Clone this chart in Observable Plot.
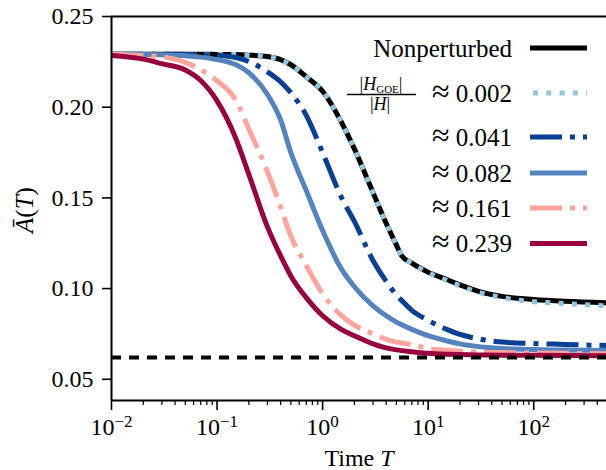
<!DOCTYPE html>
<html><head><meta charset="utf-8">
<script src="https://cdn.jsdelivr.net/npm/d3@7"></script>
<script src="https://cdn.jsdelivr.net/npm/@observablehq/plot@0.6"></script>
<style>
body{margin:0;background:#fff}
svg{font-family:"Liberation Serif",serif}
</style>
</head><body><div id="chart"></div>
<script>
// ---- data ----
const T = [0.01, 0.02, 0.03, 0.05, 0.07, 0.1, 0.15, 0.2, 0.3, 0.4, 0.5, 0.7, 1, 1.5, 2, 3, 4, 5, 5.6, 7, 10, 15, 20, 30, 50, 100, 200, 489];
const nonperturbed = [0.2292,0.2292,0.2292,0.2292,0.2292,0.2291,0.2290,0.2287,0.2279,0.2262,0.2234,0.2168,0.2088,0.1920,0.1770,0.1530,0.1360,0.1240,0.1182,0.1140,0.1090,0.1050,0.1020,0.0985,0.0957,0.0940,0.0930,0.0922];
const ratio002 = [0.2292,0.2292,0.2292,0.2292,0.2292,0.2291,0.2290,0.2287,0.2279,0.2262,0.2234,0.2168,0.2088,0.1920,0.1770,0.1530,0.1360,0.1240,0.1182,0.1140,0.1088,0.1046,0.1015,0.0980,0.0950,0.0928,0.0917,0.0905];
const ratio041 = [0.2292,0.2292,0.2292,0.2291,0.2290,0.2287,0.2274,0.2252,0.2195,0.2140,0.2080,0.1955,0.1750,0.1505,0.1370,0.1155,0.1040,0.0965,0.0935,0.0880,0.0825,0.0775,0.0747,0.0723,0.0705,0.0697,0.0692,0.0686];
const ratio082 = [0.2292,0.2291,0.2289,0.2284,0.2276,0.2262,0.2235,0.2190,0.2070,0.1930,0.1750,0.1540,0.1320,0.1110,0.1010,0.0905,0.0850,0.0815,0.0800,0.0775,0.0740,0.0712,0.0695,0.0680,0.0670,0.0664,0.0661,0.0658];
const ratio161 = [0.2292,0.2285,0.2278,0.2247,0.2207,0.2145,0.2040,0.1880,0.1645,0.1450,0.1290,0.1126,0.0972,0.0852,0.0798,0.0751,0.0720,0.0705,0.0700,0.0690,0.0670,0.0660,0.0655,0.0650,0.0647,0.0645,0.0643,0.0641];
const ratio239 = [0.2285,0.2265,0.2240,0.2205,0.2147,0.2035,0.1830,0.1630,0.1340,0.1180,0.1070,0.0950,0.0850,0.0775,0.0740,0.0695,0.0673,0.0662,0.0658,0.0652,0.0643,0.0638,0.0636,0.0634,0.0633,0.0632,0.0631,0.0630];
const referenceLevel = 0.062;

const seriesNames = ["Nonperturbed", "≈ 0.002", "≈ 0.041", "≈ 0.082", "≈ 0.161", "≈ 0.239"];
const seriesValues = [nonperturbed, ratio002, ratio041, ratio082, ratio161, ratio239];
const seriesColors = ["#000000", "#92c5de", "#0a3f96", "#5583bd", "#ffa59e", "#98003f"];
const seriesDashes = [null, "5,8.3", "32,8,5,8", null, "32,8,5,8", null];

const yTicks = [0.05, 0.10, 0.15, 0.20, 0.25];
const xMajorTicks = [0.01, 0.1, 1, 10, 100];
const xMinorTicks = [0.02,0.03,0.04,0.05,0.06,0.07,0.08,0.09,0.2,0.3,0.4,0.5,0.6,0.7,0.8,0.9,2,3,4,5,6,7,8,9,20,30,40,50,60,70,80,90,200,300,400];
const xDomain = [0.01, 489];
const yDomain = [0.0383, 0.25];

// ---- chart ----
const lineMarks = seriesValues.map((vals, k) =>
  Plot.line(T.map((t, i) => ({T: t, A: vals[i]})), {
    x: "T", y: "A", stroke: seriesColors[k], strokeWidth: 5,
    strokeDasharray: seriesDashes[k] || undefined, curve: "monotone-x",
    strokeLinecap: "butt", strokeLinejoin: "round"
  })
);

const chart = Plot.plot({
  width: 606, height: 470,
  marginLeft: 111, marginRight: 0, marginTop: 16, marginBottom: 70,
  style: {fontFamily: "Liberation Serif, serif", fontSize: "24px", background: "#fff", color: "#000", overflow: "visible"},
  x: {type: "log", domain: xDomain},
  y: {domain: yDomain},
  marks: [
    ...lineMarks,
    Plot.ruleY([referenceLevel], {stroke: "#000", strokeWidth: 4, strokeDasharray: "10,8"}),
    Plot.axisY({ticks: yTicks, tickSize: 9, tickPadding: 9, tickFormat: d3.format(".2f"), label: null, fontSize: 24, strokeWidth: 1.6}),
    Plot.axisX({ticks: xMajorTicks, tickSize: 10, tickPadding: 7, tickFormat: d => "10^" + Math.round(Math.log10(d)), label: null, fontSize: 24, strokeWidth: 1.6}),
    Plot.axisX({ticks: xMinorTicks, tickSize: 5, tickFormat: () => "", label: null, strokeWidth: 1.2}),
    Plot.ruleX([xDomain[0]], {stroke: "#000", strokeWidth: 2}),
    Plot.ruleY([yDomain[0]], {stroke: "#000", strokeWidth: 2}),
    Plot.ruleY([yDomain[1]], {stroke: "#000", strokeWidth: 2})
  ]
});
document.getElementById("chart").appendChild(chart);

const svg = d3.select(chart);

// superscript exponents on the x tick labels
svg.selectAll('g[aria-label="x-axis tick label"] text').each(function () {
  const s = this.textContent;
  if (!s.includes("^")) return;
  const [b, e] = s.split("^");
  const t = d3.select(this);
  t.text(null);
  t.append("tspan").text(b);
  t.append("tspan").attr("dy", "-0.42em").attr("font-size", "17px").text(e.replace("-", "\u2212"));
});

// axis titles
const xl = svg.append("text").attr("x", 359).attr("y", 466).attr("text-anchor", "middle").attr("font-size", 24);
xl.append("tspan").text("Time ");
xl.append("tspan").attr("font-style", "italic").text("T");

const yl = svg.append("text").attr("transform", "translate(33,210) rotate(-90)").attr("text-anchor", "middle").attr("font-size", 25);
yl.append("tspan").attr("font-style", "italic").text("A\u0304");
yl.append("tspan").text("(");
yl.append("tspan").attr("font-style", "italic").text("T");
yl.append("tspan").text(")");

// legend
const legendY = [48, 93, 137, 173, 208, 243.5];
const lg = svg.append("g");
seriesNames.forEach((name, k) => {
  const tx = lg.append("text").attr("x", 512).attr("y", legendY[k] + 8.5)
    .attr("text-anchor", "end").attr("font-size", 25);
  if (name.startsWith("≈")) {
    tx.append("tspan").attr("font-size", 32).text("≈");
    tx.append("tspan").text(name.slice(1));
  } else {
    tx.text(name);
  }
  lg.append("line").attr("x1", 530).attr("x2", 587).attr("y1", legendY[k]).attr("y2", legendY[k])
    .attr("stroke", seriesColors[k]).attr("stroke-width", 5)
    .attr("stroke-dasharray", seriesDashes[k] || null)
    .attr("stroke-dashoffset", k === 1 ? -3 : 0);
});
// fraction |H_GOE| / |H|
const num = lg.append("text").attr("x", 381).attr("y", 90).attr("text-anchor", "middle").attr("font-size", 18);
num.append("tspan").text("|");
num.append("tspan").attr("font-style", "italic").text("H");
num.append("tspan").attr("font-size", 11).attr("dy", 3).text("GOE");
num.append("tspan").attr("dy", -3).text("|");
lg.append("line").attr("x1", 347).attr("x2", 416).attr("y1", 94.5).attr("y2", 94.5).attr("stroke", "#000").attr("stroke-width", 1.3);
const den = lg.append("text").attr("x", 380).attr("y", 110).attr("text-anchor", "middle").attr("font-size", 18);
den.append("tspan").text("|");
den.append("tspan").attr("font-style", "italic").text("H");
den.append("tspan").text("|");
</script>
</body></html>
